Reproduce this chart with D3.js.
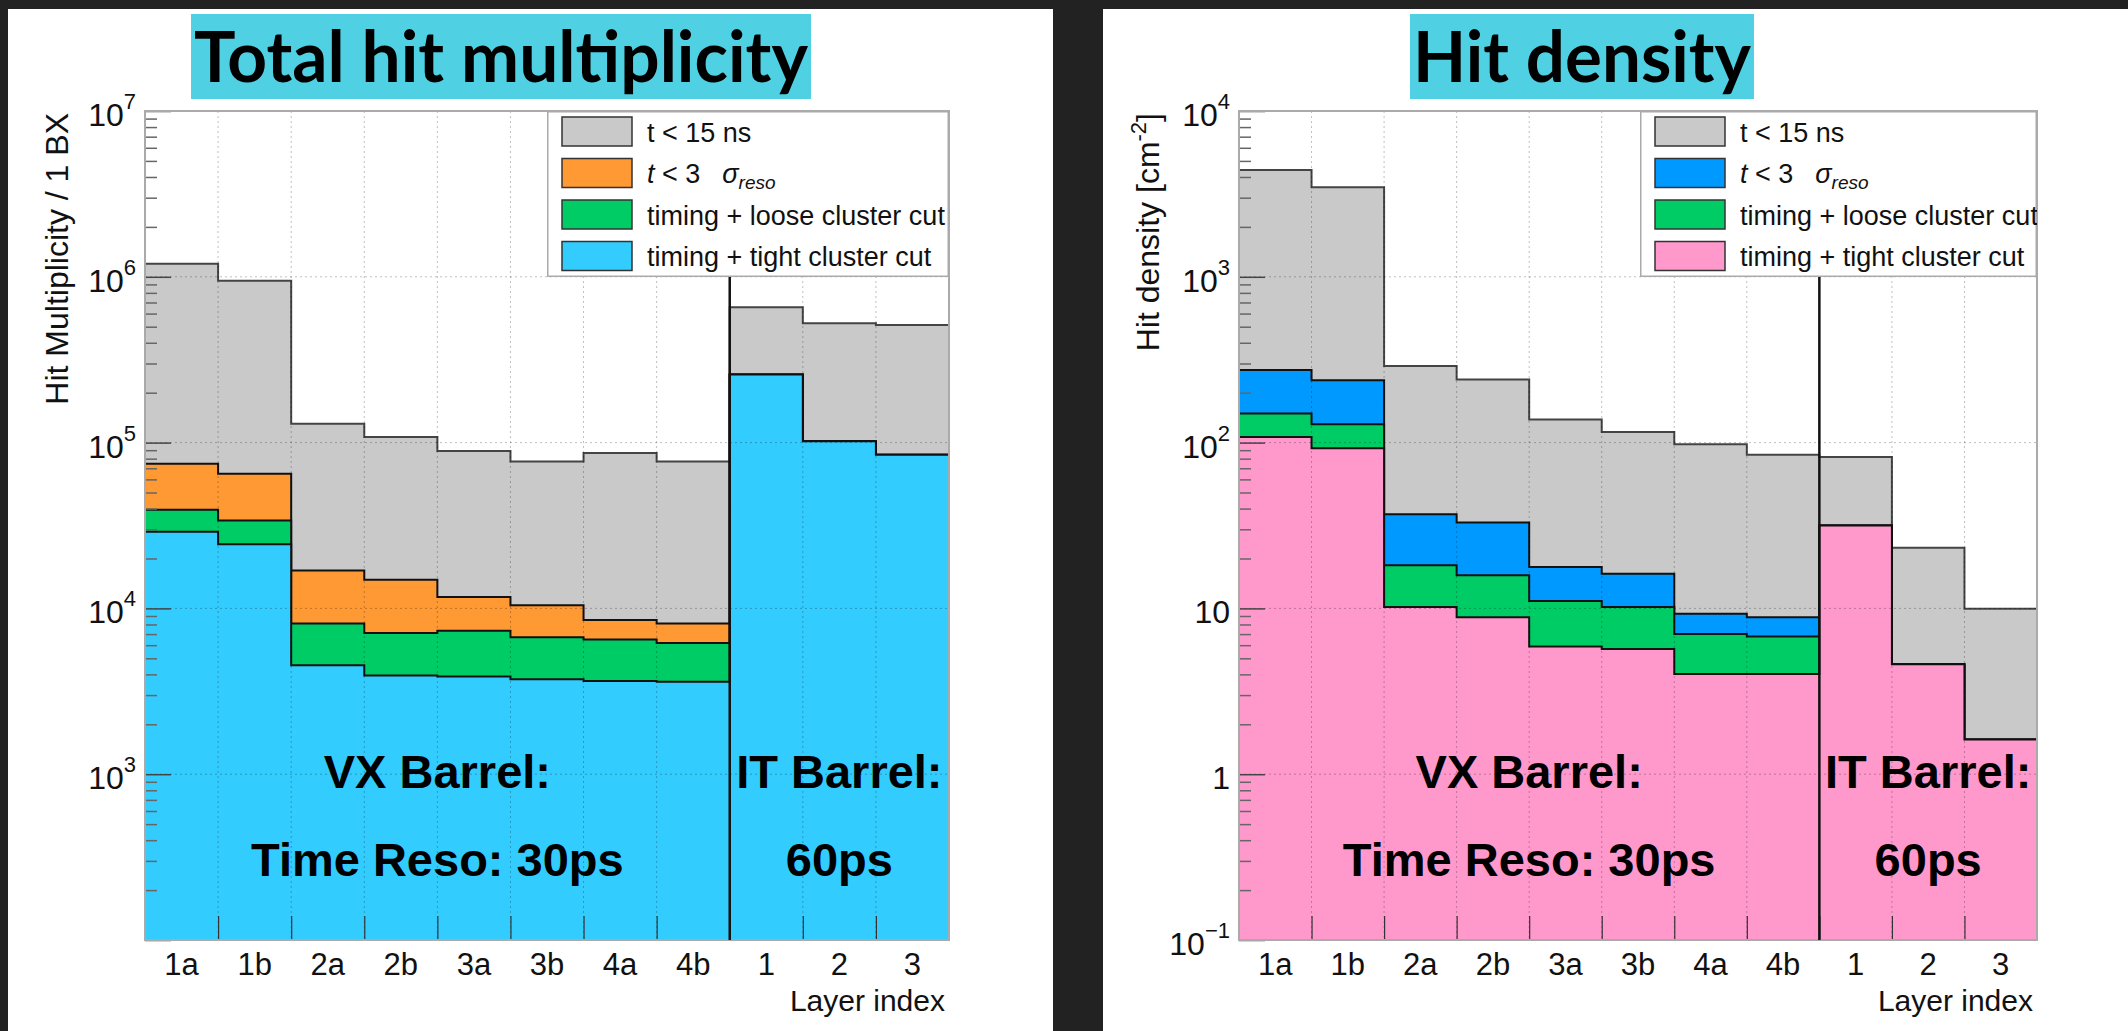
<!DOCTYPE html>
<html>
<head>
<meta charset="utf-8">
<title>Hit multiplicity and hit density</title>
<script src="https://d3js.org/d3.v7.min.js"></script>
<style>
    html, body { margin: 0; background: #222; }
    svg { display: block; }
    text { font-family: "Liberation Sans", Arial, sans-serif; fill: #111; }
</style>
</head>
<body>
<svg id="chart" width="2128" height="1031"></svg>

<script>

    // layer bins (8 VX barrel layers + 3 IT barrel layers)
    var layers = ["1a", "1b", "2a", "2b", "3a", "3b", "4a", "4b", "1", "2", "3"]

    // total hit multiplicity / 1 BX
    var multT15    = [1.2e6, 9.46e5, 1.3e5, 1.08e5, 8.9e4, 7.7e4, 8.66e4, 7.7e4, 6.55e5, 5.25e5, 5.12e5]
    var multT3     = [74600, 64900, 16900, 14900, 11700, 10450, 8510, 8100, 257800, 102000, 84600]
    var multLoose  = [39300, 33900, 8100, 7100, 7340, 6700, 6500, 6190, 257800, 102000, 84600]
    var multTight  = [28960, 24400, 4540, 3945, 3880, 3740, 3650, 3610, 257800, 102000, 84600]

    // hit density [cm^-2]
    var densT15    = [4400, 3470, 290, 240, 137.6, 116, 97.7, 84.6, 82, 23.2, 9.95]
    var densT3     = [274, 238, 37.0, 33.0, 17.8, 16.2, 9.3, 8.85, 31.6, 4.61, 1.62]
    var densLoose  = [149.6, 129, 18.2, 15.85, 11.1, 10.2, 7.0, 6.76, 31.6, 4.61, 1.62]
    var densTight  = [108, 92.5, 10.2, 8.85, 5.9, 5.69, 4.02, 4.02, 31.6, 4.61, 1.62]

    var legendLabels = ["t < 15 ns", "t < 3 sigma", "timing + loose cluster cut", "timing + tight cluster cut"]

    // y tick labels: base and exponent
    var multTicks = [1e3, 1e4, 1e5, 1e6, 1e7]
    var multTickBase = ["10", "10", "10", "10", "10"]
    var multTickExp = ["3", "4", "5", "6", "7"]
    var densTicks = [0.1, 1, 10, 100, 1000, 10000]
    var densTickBase = ["10", "1", "10", "10", "10", "10"]
    var densTickExp = ["\u22121", "", "", "2", "3", "4"]

    var svg = d3.select("#chart")

    function drawPanel(cfg) {
        var g = svg.append("g")

        // white slide panel + title box
        g.append("rect").attr("x", cfg.panel[0]).attr("y", 9)
            .attr("width", cfg.panel[1] - cfg.panel[0]).attr("height", 1031 - 9).attr("fill", "#fff")
        g.append("rect").attr("x", cfg.titleBox[0]).attr("y", 14)
            .attr("width", cfg.titleBox[1] - cfg.titleBox[0]).attr("height", 85).attr("fill", "#4fd1e3")
        g.append("text")
            .attr("x", (cfg.titleBox[0] + cfg.titleBox[1]) / 2).attr("y", 82)
            .attr("text-anchor", "middle")
            .attr("textLength", cfg.titleLen).attr("lengthAdjust", "spacingAndGlyphs")
            .style("font-family", "Lato, 'Open Sans', sans-serif").style("font-weight", "bold")
            .style("font-size", "70px").style("fill", "#000")
            .text(cfg.title)

        var top = 111, bottom = 940
        var x = d3.scaleLinear().domain([0, layers.length]).range([cfg.left, cfg.right])
        var y = d3.scaleLog().domain(cfg.yDomain).range([bottom, top])

        // overlaid histograms, largest first
        var area = d3.area().curve(d3.curveStepAfter)
            .x(function(d) { return x(d[0]) })
            .y0(bottom)
            .y1(function(d) { return y(d[1]) })
        var line = d3.line().curve(d3.curveStepAfter)
            .x(function(d) { return x(d[0]) })
            .y(function(d) { return y(d[1]) })

        cfg.series.forEach(function(vals, k) {
            var pts = vals.map(function(v, i) { return [i, v] })
            pts.push([vals.length, vals[vals.length - 1]])
            g.append("path").attr("d", area(pts)).attr("fill", cfg.colors[k])
            g.append("path").attr("d", line(pts)).attr("fill", "none")
                .attr("stroke", k == 0 ? "#444" : "#111").attr("stroke-width", 2)
        })

        // dotted grid on top
        var grid = g.append("g").attr("stroke", "#000").attr("stroke-opacity", 0.25)
            .attr("stroke-dasharray", "2,3").attr("stroke-width", 1)
        grid.selectAll(".hg").data(cfg.ticks.slice(0, -1).filter(function(v) { return v > cfg.yDomain[0] }))
            .enter().append("line")
            .attr("x1", cfg.left).attr("x2", cfg.right)
            .attr("y1", function(d) { return y(d) }).attr("y2", function(d) { return y(d) })
        grid.selectAll(".vg").data(d3.range(1, layers.length))
            .enter().append("line")
            .attr("x1", function(d) { return x(d) }).attr("x2", function(d) { return x(d) })
            .attr("y1", top).attr("y2", bottom)

        // ticks inside the frame
        var minor = []
        d3.range(Math.round(Math.log10(cfg.yDomain[0])), Math.round(Math.log10(cfg.yDomain[1]))).forEach(function(e) {
            for (var m = 2; m <= 9; m++) minor.push(m * Math.pow(10, e))
        })
        var decades = d3.range(Math.round(Math.log10(cfg.yDomain[0])), Math.round(Math.log10(cfg.yDomain[1])) + 1)
            .map(function(e) { return Math.pow(10, e) })

        g.append("g").attr("transform", "translate(" + cfg.left + ",0)")
            .call(d3.axisLeft(y).tickValues(minor).tickSize(-12).tickFormat(""))
            .call(function(s) { s.select(".domain").remove() })
            .selectAll("line").attr("stroke", "#666").attr("stroke-width", 1.5)
        g.append("g").attr("transform", "translate(" + cfg.left + ",0)")
            .call(d3.axisLeft(y).tickValues(decades).tickSize(-26).tickFormat(""))
            .call(function(s) { s.select(".domain").remove() })
            .selectAll("line").attr("stroke", "#444").attr("stroke-width", 1.5)
        g.append("g").attr("transform", "translate(0," + bottom + ")")
            .call(d3.axisBottom(x).tickValues(d3.range(1, layers.length)).tickSize(-24).tickFormat(""))
            .call(function(s) { s.select(".domain").remove() })
            .selectAll("line").attr("stroke", "#333").attr("stroke-width", 1.2)

        // frame
        g.append("rect").attr("x", cfg.left).attr("y", top)
            .attr("width", cfg.right - cfg.left).attr("height", bottom - top)
            .attr("fill", "none").attr("stroke", "#aaa").attr("stroke-width", 2)

        // VX / IT separator
        g.append("line").attr("x1", x(8)).attr("x2", x(8)).attr("y1", top).attr("y2", bottom)
            .attr("stroke", "#111").attr("stroke-width", 2.5)

        // y tick labels
        cfg.ticks.forEach(function(v, i) {
            var t = g.append("text").attr("x", cfg.left - 9).attr("y", y(v) + 15)
                .attr("text-anchor", "end").style("font-size", "32px")
            t.append("tspan").text(cfg.tickBase[i])
            if (cfg.tickExp[i] != "") {
                t.append("tspan").attr("dy", -17).style("font-size", "22px").text(cfg.tickExp[i])
            }
        })

        // x labels
        g.selectAll(".xl").data(layers).enter().append("text")
            .attr("x", function(d, i) { return x(i + 0.5) }).attr("y", 975)
            .attr("text-anchor", "middle").style("font-size", "31px")
            .text(function(d) { return d })
        g.append("text").attr("x", cfg.right - 4).attr("y", 1011)
            .attr("text-anchor", "end").style("font-size", "30px").text("Layer index")

        // y title
        var yt = g.append("text")
            .attr("transform", "translate(" + cfg.ytitleX + "," + (top + 2) + ") rotate(-90)")
            .attr("text-anchor", "end").style("font-size", "32px")
        cfg.ytitle(yt)

        // legend
        var lx = cfg.legendX, lw = cfg.right - cfg.legendX, lh = 166
        g.append("clipPath").attr("id", "clip" + cfg.id)
            .append("rect").attr("x", lx).attr("y", top).attr("width", lw).attr("height", lh)
        var lg = g.append("g").attr("clip-path", "url(#clip" + cfg.id + ")")
        lg.append("rect").attr("x", lx).attr("y", top).attr("width", lw).attr("height", lh)
            .attr("fill", "#fff").attr("stroke", "#aaa").attr("stroke-width", 3)
        legendLabels.forEach(function(lab, i) {
            var cy = top + 20.5 + i * 41.5
            lg.append("rect").attr("x", lx + 15).attr("y", cy - 14.5).attr("width", 70).attr("height", 29)
                .attr("fill", cfg.colors[i]).attr("stroke", "#333").attr("stroke-width", 1.5)
            var t = lg.append("text").attr("x", lx + 100).attr("y", cy + 10).style("font-size", "27px")
            if (i == 1) {
                t.append("tspan").style("font-style", "italic").text("t")
                t.append("tspan").text(" < 3")
                t.append("tspan").attr("dx", 22).style("font-style", "italic").text("\u03c3")
                t.append("tspan").attr("dy", 6).style("font-style", "italic").style("font-size", "19px").text("reso")
            } else {
                t.text(lab)
            }
        })

        // annotations
        var ann = [["VX Barrel:", 4, 788], ["Time Reso: 30ps", 4, 876], ["IT Barrel:", 9.5, 788], ["60ps", 9.5, 876]]
        ann.forEach(function(a) {
            g.append("text").attr("x", x(a[1])).attr("y", a[2]).attr("text-anchor", "middle")
                .style("font-size", "47px").style("font-weight", "bold").style("fill", "#000")
                .text(a[0])
        })
    }

    drawPanel({
        id: "mult",
        panel: [8, 1053],
        titleBox: [191, 811], titleLen: 614, title: "Total hit multiplicity",
        left: 145, right: 949, legendX: 547,
        yDomain: [1e2, 1e7],
        series: [multT15, multT3, multLoose, multTight],
        colors: ["#c9c9c9", "#ff9933", "#00cc66", "#33ccff"],
        ticks: multTicks, tickBase: multTickBase, tickExp: multTickExp,
        ytitleX: 68,
        ytitle: function(t) { t.text("Hit Multiplicity / 1 BX") }
    })

    drawPanel({
        id: "dens",
        panel: [1103, 2128],
        titleBox: [1410, 1754], titleLen: 338, title: "Hit density",
        left: 1239, right: 2037, legendX: 1640,
        yDomain: [0.1, 1e4],
        series: [densT15, densT3, densLoose, densTight],
        colors: ["#c9c9c9", "#0099ff", "#00cc66", "#ff99cc"],
        ticks: densTicks, tickBase: densTickBase, tickExp: densTickExp,
        ytitleX: 1159,
        ytitle: function(t) {
            t.append("tspan").text("Hit density [cm")
            t.append("tspan").attr("dy", -13).style("font-size", "22px").text("-2")
            t.append("tspan").attr("dy", 13).text("]")
        }
    })

</script>
</body>
</html>
